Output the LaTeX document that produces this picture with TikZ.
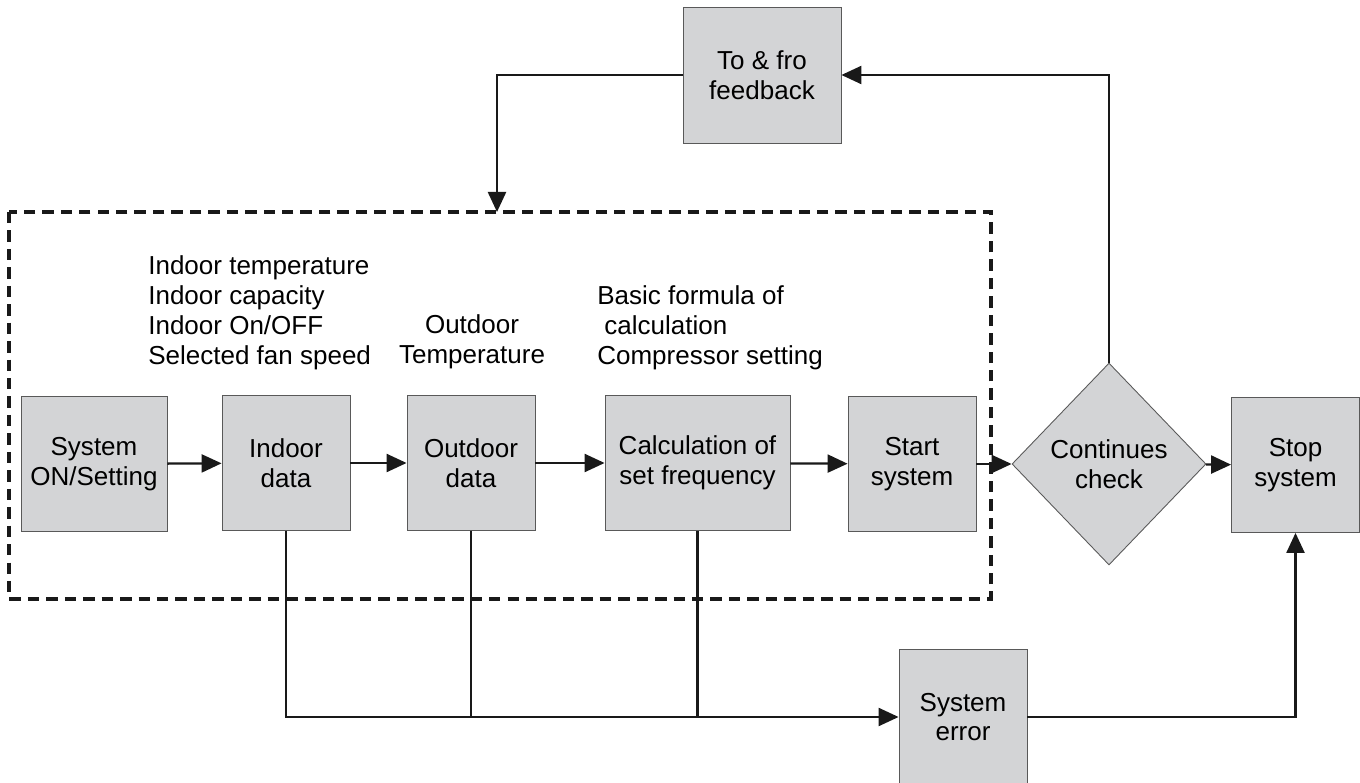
\documentclass[tikz,border=0pt]{standalone}
\usepackage{fontspec}
\setmainfont{Liberation Sans}
\usetikzlibrary{shapes.geometric,arrows.meta}
\definecolor{boxgray}{RGB}{211,212,214}
\newcommand{\diagfont}{\fontsize{14.8pt}{17pt}\selectfont}

\begin{document}
\begin{tikzpicture}[x=0.02cm, y=-0.02cm, >={Triangle[length=0.4cm,width=0.36cm]},
  box/.style={draw=black!65, line width=0.5pt, fill=boxgray, inner sep=0pt,
    align=center, font=\diagfont, minimum width=2.56cm, minimum height=2.7cm},
  decision/.style={box, shape=diamond, minimum width=3.88cm, minimum height=4.04cm},
  flow/.style={line width=1.3pt, black!90},
  note/.style={inner sep=0pt, font=\diagfont}]
  \useasboundingbox (0,0) rectangle (1360,783);

  % Dashed frame round the control steps
  \draw[line width=1.8pt, black!90, dash pattern=on 6.5pt off 4pt] (9,212) rectangle (991,599);

  % Main row
  \node[box, minimum width=2.92cm] (sys) at (94,464) {System\\ON/Setting};
  \node[box] (indoor) at (286,463) {Indoor\\data};
  \node[box] (outdoor) at (471,463) {Outdoor\\data};
  \node[box, minimum width=3.7cm] (calc) at (697.5,463) {Calculation of\\set frequency};
  \node[box] (start) at (912,464) {Start\\system};
  \node[decision] (check) at (1109,464) {Continues\\check};
  \node[box] (stop) at (1295.5,465) {Stop\\system};

  % Feedback and error boxes
  \node[box, minimum width=3.16cm, minimum height=2.72cm] (feedback) at (762,75) {To \& fro\\feedback};
  \node[box] (error) at (963,717) {System\\error};

  % Notes above the row
  \node[note, anchor=west, align=left] (indoornote) at (148,313)
    {Indoor temperature\\Indoor capacity\\Indoor On/OFF\\Selected fan speed};
  \node[note, align=center] (outdoornote) at (472,342) {Outdoor\\Temperature};
  \node[note, anchor=west, align=left] (calcnote) at (597,328)
    {Basic formula of\\\hspace{4pt}calculation\\Compressor setting};

  % Forward flow
  \draw[flow,->] (sys) -- (indoor);
  \draw[flow,->] (indoor) -- (outdoor);
  \draw[flow,->] (outdoor) -- (calc);
  \draw[flow,->] (calc) -- (start);
  \draw[flow,->] (start) -- (check);
  \draw[flow,->] (check) -- (stop);

  % Feedback loop back into the frame
  \coordinate (fbin) at (497,212);
  \draw[flow,->] (check.north) |- (feedback.east);
  \draw[flow,->] (feedback.west) -| (fbin);

  % Error path
  \draw[flow,->] (indoor.south) |- (error.west);
  \draw[flow] (outdoor.south) -- (outdoor.south |- error.west);
  \draw[flow] (calc.south) -- (calc.south |- error.west);
  \draw[flow,->] (error.east) -| (stop.south);
\end{tikzpicture}
\end{document}
